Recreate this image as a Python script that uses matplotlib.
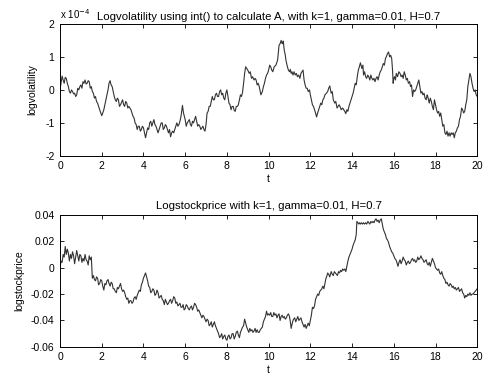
import matplotlib
matplotlib.use("Agg")
import matplotlib.pyplot as plt
from matplotlib.ticker import FuncFormatter

plt.rcParams['font.family'] = ['Liberation Sans', 'DejaVu Sans']
plt.rcParams['font.size'] = 7.5
plt.rcParams['axes.unicode_minus'] = False

# log volatility path, values in units of 1e-4
vol_points = [
    (0.0, 0.0), (0.05, 0.2), (0.1, 0.42), (0.15, 0.3), (0.2, 0.2), (0.25, 0.38), (0.3, 0.35),
    (0.35, 0.2), (0.4, 0.1), (0.45, -0.05), (0.5, -0.1), (0.55, 0.0), (0.6, -0.05), (0.65, -0.12),
    (0.7, -0.1), (0.75, -0.2), (0.8, -0.15), (0.85, 0.05), (0.9, 0.0), (0.95, 0.1), (1.0, 0.15),
    (1.05, 0.05), (1.1, 0.25), (1.15, 0.2), (1.2, 0.3), (1.25, 0.18), (1.3, 0.2), (1.35, 0.28),
    (1.4, 0.25), (1.45, 0.05), (1.5, 0.1), (1.55, -0.05), (1.6, -0.1), (1.65, -0.25), (1.7, -0.2),
    (1.75, -0.35), (1.8, -0.4), (1.9, -0.6), (2.0, -0.78), (2.05, -0.7), (2.1, -0.6), (2.2, -0.3),
    (2.3, 0.0), (2.35, 0.2), (2.4, 0.28), (2.45, 0.15), (2.5, 0.1), (2.6, -0.2), (2.65, -0.3),
    (2.7, -0.35), (2.75, -0.25), (2.8, -0.3), (2.85, -0.5), (2.9, -0.45), (3.0, -0.3), (3.05, -0.45),
    (3.1, -0.5), (3.15, -0.35), (3.2, -0.4), (3.25, -0.55), (3.3, -0.5), (3.4, -0.6), (3.5, -0.8),
    (3.55, -0.85), (3.6, -1.0), (3.65, -1.05), (3.7, -1.2), (3.75, -1.1), (3.8, -1.1), (3.85, -1.25),
    (3.9, -1.2), (3.95, -1.1), (4.0, -1.15), (4.05, -1.3), (4.1, -1.45), (4.15, -1.3), (4.2, -1.15),
    (4.25, -1.2), (4.3, -1.0), (4.35, -0.95), (4.4, -1.1), (4.45, -1.0), (4.5, -0.9), (4.55, -1.05),
    (4.6, -1.1), (4.65, -1.2), (4.7, -1.3), (4.75, -1.2), (4.8, -1.1), (4.85, -1.0), (4.9, -1.0),
    (4.95, -1.2), (5.0, -1.15), (5.05, -1.05), (5.1, -1.1), (5.15, -1.2), (5.2, -1.3), (5.25, -1.2),
    (5.3, -1.42), (5.35, -1.3), (5.4, -1.25), (5.45, -1.3), (5.5, -1.2), (5.55, -1.1), (5.6, -1.0),
    (5.65, -1.1), (5.7, -1.05), (5.75, -0.95), (5.8, -0.8), (5.87, -0.47), (5.92, -0.7), (6.0, -0.9),
    (6.05, -1.1), (6.1, -1.0), (6.15, -0.95), (6.2, -0.9), (6.25, -1.05), (6.3, -1.1), (6.35, -0.95),
    (6.4, -1.0), (6.45, -0.9), (6.5, -0.8), (6.55, -0.95), (6.6, -1.1), (6.65, -1.05), (6.7, -1.1),
    (6.75, -1.2), (6.8, -1.15), (6.85, -1.1), (6.9, -1.2), (6.95, -1.25), (7.0, -1.05), (7.05, -0.7),
    (7.1, -0.65), (7.15, -0.5), (7.2, -0.5), (7.25, -0.35), (7.3, -0.2), (7.35, -0.3), (7.4, -0.3),
    (7.45, -0.15), (7.5, -0.1), (7.55, -0.2), (7.6, -0.2), (7.65, -0.05), (7.7, 0.0), (7.75, -0.15),
    (7.8, -0.1), (7.85, -0.25), (7.9, -0.3), (7.95, -0.1), (8.0, 0.0), (8.05, -0.2), (8.1, -0.4),
    (8.15, -0.45), (8.2, -0.6), (8.25, -0.5), (8.3, -0.5), (8.35, -0.62), (8.4, -0.65), (8.45, -0.5),
    (8.5, -0.5), (8.55, -0.45), (8.6, -0.3), (8.65, -0.15), (8.7, -0.2), (8.75, -0.07), (8.8, 0.2),
    (8.85, 0.5), (8.9, 0.7), (8.95, 0.65), (9.0, 0.6), (9.07, 0.5), (9.12, 0.55), (9.18, 0.35),
    (9.23, 0.4), (9.3, 0.3), (9.35, 0.35), (9.4, 0.3), (9.45, 0.15), (9.5, 0.2), (9.55, 0.1),
    (9.63, -0.15), (9.7, -0.05), (9.75, 0.1), (9.8, 0.2), (9.85, 0.35), (9.9, 0.45), (9.95, 0.5),
    (10.0, 0.6), (10.05, 0.75), (10.1, 0.7), (10.15, 0.6), (10.2, 0.55), (10.27, 0.7), (10.35, 0.75),
    (10.43, 0.9), (10.5, 1.35), (10.55, 1.4), (10.6, 1.5), (10.63, 1.42), (10.67, 1.4), (10.7, 1.48),
    (10.75, 1.2), (10.8, 1.05), (10.83, 0.9), (10.9, 0.7), (10.95, 0.6), (11.0, 0.55), (11.04, 0.62),
    (11.08, 0.5), (11.12, 0.55), (11.17, 0.45), (11.22, 0.55), (11.28, 0.45), (11.33, 0.5),
    (11.38, 0.4), (11.44, 0.45), (11.5, 0.35), (11.55, 0.5), (11.6, 0.55), (11.65, 0.6), (11.7, 0.3),
    (11.75, 0.15), (11.8, 0.05), (11.85, 0.05), (11.9, -0.05), (11.96, 0.0), (12.0, -0.15),
    (12.05, -0.3), (12.1, -0.45), (12.15, -0.5), (12.2, -0.6), (12.25, -0.7), (12.3, -0.82),
    (12.35, -0.7), (12.4, -0.6), (12.45, -0.5), (12.5, -0.4), (12.55, -0.45), (12.6, -0.3),
    (12.65, -0.25), (12.7, -0.15), (12.77, -0.1), (12.83, -0.05), (12.88, 0.05), (12.93, 0.12),
    (12.97, 0.0), (13.0, -0.1), (13.05, -0.05), (13.1, -0.3), (13.17, -0.4), (13.22, -0.35),
    (13.28, -0.55), (13.33, -0.5), (13.38, -0.45), (13.42, -0.5), (13.48, -0.6), (13.55, -0.55),
    (13.6, -0.6), (13.65, -0.65), (13.7, -0.72), (13.75, -0.6), (13.8, -0.65), (13.85, -0.5),
    (13.9, -0.4), (14.0, -0.2), (14.05, -0.1), (14.1, 0.05), (14.15, 0.2), (14.2, 0.15), (14.25, 0.4),
    (14.3, 0.6), (14.35, 0.7), (14.4, 0.82), (14.45, 0.7), (14.47, 0.65), (14.52, 0.75), (14.55, 0.45),
    (14.6, 0.55), (14.65, 0.4), (14.7, 0.35), (14.75, 0.45), (14.8, 0.4), (14.85, 0.3), (14.9, 0.45),
    (14.95, 0.35), (15.0, 0.3), (15.05, 0.35), (15.1, 0.25), (15.15, 0.35), (15.2, 0.4), (15.25, 0.3),
    (15.3, 0.45), (15.35, 0.55), (15.4, 0.6), (15.45, 0.7), (15.5, 0.8), (15.55, 0.75), (15.6, 0.95),
    (15.64, 1.0), (15.7, 1.1), (15.75, 1.15), (15.8, 1.0), (15.85, 1.05), (15.9, 0.95), (15.94, 0.6),
    (15.97, 0.2), (16.0, 0.35), (16.04, 0.4), (16.08, 0.3), (16.12, 0.5), (16.18, 0.4), (16.24, 0.55),
    (16.3, 0.5), (16.35, 0.4), (16.4, 0.45), (16.45, 0.35), (16.5, 0.55), (16.55, 0.45), (16.6, 0.3),
    (16.65, 0.35), (16.7, 0.2), (16.76, 0.25), (16.8, 0.1), (16.85, 0.15), (16.9, -0.2), (16.95, 0.0),
    (17.0, -0.05), (17.05, 0.0), (17.1, 0.1), (17.15, 0.2), (17.2, 0.3), (17.25, 0.1), (17.3, -0.1),
    (17.35, -0.05), (17.4, -0.15), (17.45, -0.1), (17.5, -0.25), (17.55, -0.3), (17.6, -0.15),
    (17.63, -0.2), (17.7, -0.4), (17.75, -0.25), (17.8, -0.35), (17.85, -0.5), (17.9, -0.6),
    (17.95, -0.3), (18.0, -0.45), (18.05, -0.6), (18.1, -0.7), (18.15, -0.65), (18.2, -0.8),
    (18.25, -0.7), (18.3, -0.9), (18.35, -1.1), (18.4, -1.05), (18.45, -1.3), (18.5, -1.35),
    (18.55, -1.25), (18.6, -1.4), (18.65, -1.3), (18.7, -1.4), (18.75, -1.3), (18.8, -1.35),
    (18.85, -1.3), (18.9, -1.45), (18.95, -1.3), (19.0, -1.25), (19.05, -1.15), (19.1, -1.1),
    (19.15, -0.9), (19.2, -0.8), (19.25, -0.55), (19.3, -0.6), (19.35, -0.7), (19.4, -0.65),
    (19.45, -0.45), (19.5, -0.3), (19.55, 0.1), (19.6, 0.3), (19.65, 0.5), (19.7, 0.4), (19.75, 0.2),
    (19.8, 0.05), (19.85, -0.05), (19.9, 0.0), (19.95, -0.15), (20.0, -0.2),
]

# log stock price path
price_points = [
    (0.0, 0.0), (0.05, 0.005), (0.1, 0.004), (0.15, 0.01), (0.2, 0.008), (0.25, 0.016), (0.3, 0.01),
    (0.35, 0.014), (0.4, 0.011), (0.45, 0.005), (0.5, 0.01), (0.55, 0.007), (0.6, 0.012), (0.65, 0.009),
    (0.7, 0.003), (0.75, 0.008), (0.8, 0.013), (0.85, 0.009), (0.9, 0.005), (0.95, 0.01), (1.0, 0.009),
    (1.05, 0.004), (1.1, 0.007), (1.15, 0.005), (1.2, 0.01), (1.25, 0.006), (1.3, 0.005), (1.35, 0.002),
    (1.4, 0.009), (1.45, 0.006), (1.5, 0.008), (1.55, -0.008), (1.6, -0.006), (1.65, -0.009),
    (1.7, -0.01), (1.75, -0.007), (1.8, -0.008), (1.85, -0.013), (1.9, -0.012), (1.95, -0.009),
    (2.0, -0.01), (2.05, -0.014), (2.1, -0.017), (2.15, -0.012), (2.2, -0.013), (2.25, -0.01),
    (2.3, -0.009), (2.35, -0.012), (2.4, -0.014), (2.45, -0.011), (2.5, -0.012), (2.55, -0.016),
    (2.6, -0.016), (2.65, -0.018), (2.7, -0.019), (2.75, -0.015), (2.8, -0.016), (2.85, -0.014),
    (2.9, -0.012), (2.95, -0.016), (3.0, -0.018), (3.05, -0.017), (3.1, -0.019), (3.15, -0.022),
    (3.2, -0.024), (3.25, -0.023), (3.3, -0.027), (3.35, -0.025), (3.4, -0.025), (3.45, -0.027),
    (3.5, -0.026), (3.55, -0.023), (3.6, -0.022), (3.65, -0.024), (3.7, -0.021), (3.75, -0.019),
    (3.8, -0.017), (3.85, -0.018), (3.9, -0.013), (3.95, -0.011), (4.0, -0.008), (4.05, -0.006),
    (4.1, -0.004), (4.15, -0.007), (4.2, -0.01), (4.25, -0.014), (4.3, -0.015), (4.35, -0.019),
    (4.4, -0.018), (4.45, -0.016), (4.5, -0.017), (4.55, -0.021), (4.6, -0.02), (4.65, -0.017),
    (4.7, -0.019), (4.75, -0.023), (4.8, -0.022), (4.85, -0.021), (4.9, -0.024), (4.95, -0.025),
    (5.0, -0.028), (5.05, -0.024), (5.1, -0.026), (5.15, -0.028), (5.2, -0.027), (5.25, -0.025),
    (5.3, -0.024), (5.35, -0.027), (5.4, -0.025), (5.45, -0.022), (5.5, -0.023), (5.55, -0.027),
    (5.6, -0.026), (5.65, -0.029), (5.7, -0.028), (5.75, -0.027), (5.8, -0.03), (5.85, -0.03),
    (5.9, -0.028), (5.95, -0.032), (6.0, -0.031), (6.05, -0.028), (6.1, -0.029), (6.15, -0.031),
    (6.2, -0.032), (6.25, -0.03), (6.3, -0.029), (6.35, -0.032), (6.4, -0.03), (6.45, -0.027),
    (6.5, -0.028), (6.55, -0.03), (6.6, -0.033), (6.65, -0.032), (6.7, -0.034), (6.75, -0.036),
    (6.8, -0.038), (6.85, -0.036), (6.9, -0.037), (6.95, -0.039), (7.0, -0.041), (7.05, -0.039),
    (7.1, -0.04), (7.15, -0.044), (7.2, -0.043), (7.25, -0.041), (7.3, -0.045), (7.35, -0.043),
    (7.4, -0.041), (7.45, -0.044), (7.5, -0.046), (7.55, -0.048), (7.6, -0.05), (7.65, -0.053),
    (7.7, -0.052), (7.75, -0.05), (7.8, -0.054), (7.85, -0.052), (7.9, -0.051), (7.95, -0.054),
    (8.0, -0.055), (8.05, -0.052), (8.1, -0.051), (8.15, -0.054), (8.2, -0.053), (8.25, -0.05),
    (8.3, -0.05), (8.35, -0.054), (8.4, -0.052), (8.45, -0.049), (8.5, -0.048), (8.55, -0.051),
    (8.6, -0.053), (8.65, -0.049), (8.7, -0.047), (8.75, -0.045), (8.8, -0.044), (8.85, -0.039),
    (8.9, -0.042), (8.95, -0.045), (9.0, -0.047), (9.05, -0.049), (9.1, -0.046), (9.15, -0.048),
    (9.2, -0.047), (9.25, -0.049), (9.3, -0.048), (9.35, -0.046), (9.4, -0.049), (9.45, -0.047),
    (9.5, -0.049), (9.55, -0.049), (9.6, -0.047), (9.65, -0.046), (9.7, -0.045), (9.75, -0.041),
    (9.8, -0.039), (9.85, -0.037), (9.9, -0.033), (9.95, -0.036), (10.0, -0.035), (10.05, -0.036),
    (10.1, -0.034), (10.15, -0.037), (10.2, -0.037), (10.25, -0.034), (10.3, -0.036), (10.35, -0.035),
    (10.4, -0.038), (10.45, -0.036), (10.5, -0.035), (10.55, -0.04), (10.6, -0.037), (10.65, -0.036),
    (10.7, -0.038), (10.75, -0.037), (10.8, -0.039), (10.85, -0.038), (10.9, -0.036), (10.95, -0.035),
    (11.0, -0.037), (11.05, -0.042), (11.08, -0.046), (11.12, -0.043), (11.17, -0.04), (11.2, -0.039),
    (11.25, -0.038), (11.3, -0.041), (11.35, -0.039), (11.4, -0.037), (11.45, -0.04), (11.5, -0.039),
    (11.55, -0.038), (11.6, -0.041), (11.65, -0.043), (11.7, -0.045), (11.75, -0.043), (11.8, -0.046),
    (11.85, -0.044), (11.9, -0.042), (11.95, -0.044), (12.0, -0.04), (12.05, -0.036), (12.1, -0.03),
    (12.15, -0.031), (12.2, -0.029), (12.25, -0.024), (12.3, -0.022), (12.35, -0.02), (12.4, -0.021),
    (12.45, -0.018), (12.5, -0.017), (12.55, -0.016), (12.6, -0.014), (12.65, -0.016), (12.7, -0.012),
    (12.75, -0.008), (12.8, -0.006), (12.83, -0.004), (12.88, -0.005), (12.93, -0.007), (13.0, -0.003),
    (13.05, -0.005), (13.1, -0.006), (13.15, -0.003), (13.2, -0.004), (13.25, -0.005), (13.3, -0.006),
    (13.35, -0.003), (13.4, -0.004), (13.45, -0.002), (13.5, -0.003), (13.55, -0.001), (13.6, -0.002),
    (13.65, -0.001), (13.7, -0.003), (13.75, 0.001), (13.8, 0.005), (13.85, 0.008), (13.9, 0.01),
    (13.95, 0.012), (14.0, 0.014), (14.05, 0.017), (14.1, 0.019), (14.15, 0.021), (14.2, 0.025),
    (14.23, 0.035), (14.28, 0.034), (14.32, 0.033), (14.36, 0.034), (14.4, 0.033), (14.45, 0.034),
    (14.5, 0.033), (14.55, 0.034), (14.6, 0.033), (14.65, 0.034), (14.7, 0.033), (14.76, 0.035),
    (14.8, 0.034), (14.85, 0.033), (14.9, 0.035), (14.95, 0.034), (15.0, 0.035), (15.05, 0.034),
    (15.1, 0.036), (15.15, 0.037), (15.2, 0.035), (15.25, 0.036), (15.3, 0.034), (15.35, 0.036),
    (15.4, 0.037), (15.45, 0.033), (15.5, 0.029), (15.55, 0.027), (15.6, 0.025), (15.65, 0.022),
    (15.7, 0.021), (15.75, 0.019), (15.8, 0.016), (15.85, 0.014), (15.9, 0.012), (15.95, 0.011),
    (16.0, 0.009), (16.05, 0.007), (16.1, 0.006), (16.15, 0.004), (16.2, 0.001), (16.25, 0.004),
    (16.3, 0.006), (16.35, 0.003), (16.4, 0.005), (16.45, 0.008), (16.5, 0.006), (16.55, 0.005),
    (16.6, 0.002), (16.65, 0.004), (16.7, 0.005), (16.75, 0.003), (16.8, 0.004), (16.85, 0.006),
    (16.9, 0.007), (16.95, 0.005), (17.0, 0.006), (17.05, 0.004), (17.1, 0.005), (17.15, 0.008),
    (17.2, 0.006), (17.25, 0.007), (17.3, 0.009), (17.35, 0.007), (17.4, 0.006), (17.45, 0.004),
    (17.5, 0.005), (17.55, 0.006), (17.6, 0.003), (17.65, 0.002), (17.7, 0.004), (17.75, 0.001),
    (17.8, 0.004), (17.85, 0.007), (17.9, 0.005), (17.95, 0.003), (18.0, 0.0), (18.05, -0.001),
    (18.1, -0.002), (18.15, -0.001), (18.2, -0.004), (18.25, -0.005), (18.3, -0.003), (18.35, -0.006),
    (18.4, -0.008), (18.45, -0.009), (18.5, -0.012), (18.55, -0.011), (18.6, -0.013), (18.65, -0.014),
    (18.7, -0.012), (18.75, -0.013), (18.8, -0.015), (18.85, -0.014), (18.9, -0.016), (18.95, -0.015),
    (19.0, -0.017), (19.05, -0.016), (19.1, -0.015), (19.15, -0.018), (19.2, -0.017), (19.25, -0.016),
    (19.3, -0.019), (19.35, -0.02), (19.4, -0.023), (19.45, -0.021), (19.5, -0.022), (19.55, -0.02),
    (19.6, -0.021), (19.65, -0.019), (19.7, -0.021), (19.75, -0.02), (19.8, -0.02), (19.85, -0.019),
    (19.9, -0.018), (19.95, -0.017), (20.0, -0.016),
]

vol_t, vol_v = zip(*vol_points)
price_t, price_v = zip(*price_points)
logvol = [v * 1e-4 for v in vol_v]

vol_ticks = [-2e-4, -1e-4, 0, 1e-4, 2e-4]
price_ticks = [-0.06, -0.04, -0.02, 0, 0.02, 0.04]
t_ticks = [0, 2, 4, 6, 8, 10, 12, 14, 16, 18, 20]

line_color = '#333333'

fig = plt.figure(figsize=(4.84, 3.85), dpi=100)
ax1 = fig.add_axes([0.124, 0.595, 0.862, 0.343])
ax2 = fig.add_axes([0.124, 0.099, 0.862, 0.343])

for ax in (ax1, ax2):
    ax.tick_params(direction='in', top=True, right=True, length=3, width=0.6, pad=4)
    for s in ax.spines.values():
        s.set_linewidth(0.7)
    ax.set_xlim(0, 20)
    ax.set_xticks(t_ticks)
    ax.set_xlabel('t', labelpad=2)

ax1.plot(vol_t, logvol, color=line_color, lw=0.8)
ax1.set_ylim(-2e-4, 2e-4)
ax1.set_yticks(vol_ticks)
ax1.yaxis.set_major_formatter(FuncFormatter(lambda v, p: '%g' % round(v / 1e-4, 6)))
ax1.set_ylabel('logvolatility', labelpad=6)
ax1.set_title('Logvolatility using int() to calculate A, with k=1, gamma=0.01, H=0.7',
              fontsize=8.2, pad=3)
ax1.text(0.0, 1.02, 'x 10$^{-4}$', transform=ax1.transAxes, ha='left', va='bottom', fontsize=7)

ax2.plot(price_t, price_v, color=line_color, lw=0.8)
ax2.set_ylim(-0.06, 0.04)
ax2.set_yticks(price_ticks)
ax2.yaxis.set_major_formatter(FuncFormatter(lambda v, p: '%g' % round(v, 6)))
ax2.set_ylabel('logstockprice', labelpad=5)
ax2.set_title('Logstockprice with k=1, gamma=0.01, H=0.7', fontsize=8.2, pad=4)

fig.savefig('out.png', dpi=100)
